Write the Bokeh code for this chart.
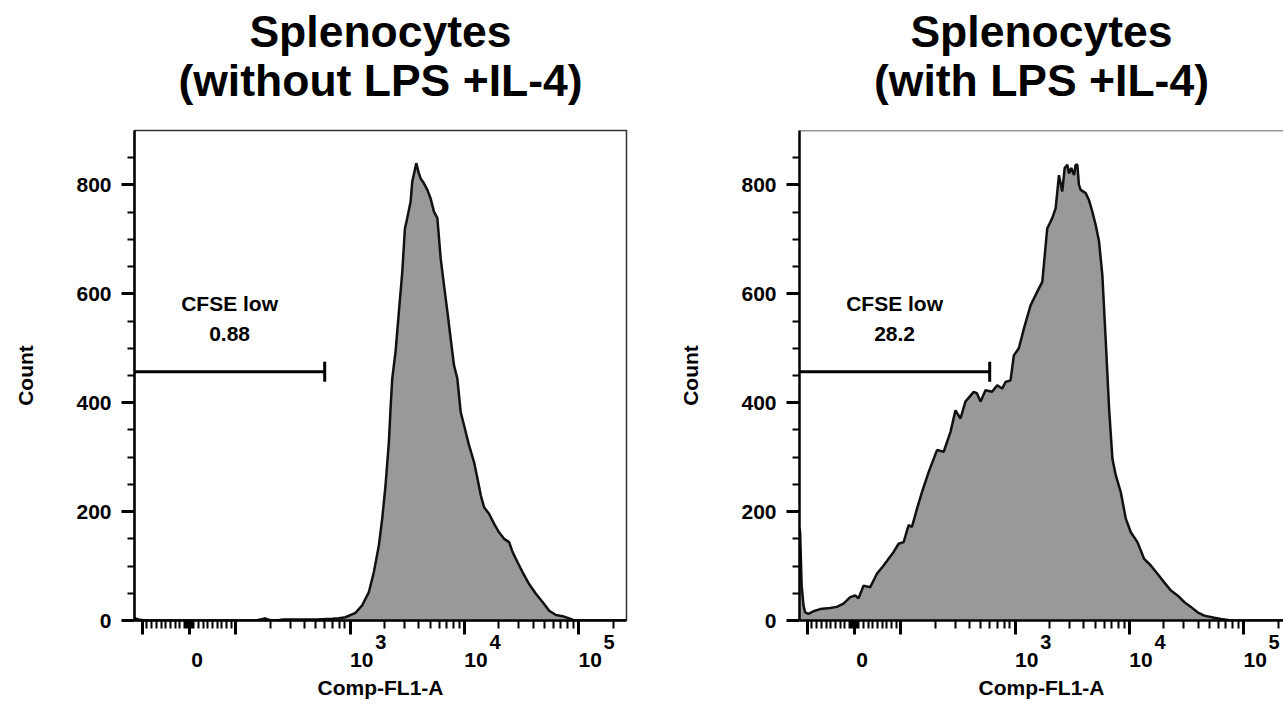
import numpy as np
from bokeh.plotting import figure
from bokeh.models import (Range1d, FixedTicker, Label, Title, Span, LinearAxis,
                          CustomJSTickFormatter)
from bokeh.layouts import row
from bokeh.embed import file_html
from bokeh.resources import INLINE

# ---------------- data ----------------
title_left = ["Splenocytes", "(without LPS +IL-4)"]
title_right = ["Splenocytes", "(with LPS +IL-4)"]
x_axis_label = "Comp-FL1-A"
y_axis_label = "Count"
gate_name = "CFSE low"
gate_pct_left = "0.88"
gate_pct_right = "28.2"
gate_upper = 598          # upper bound of the CFSE-low gate (fluorescence)
gate_level = 457          # height at which the gate is drawn (count)

x_min_val = -117
x_max_val = 262144
y_max_val = 900

y_major = [0, 200, 400, 600, 800]
y_minor = [50, 100, 150, 250, 300, 350, 450, 500, 550, 650, 700, 750, 850]

x_major_vals = [-100, 0, 100, 1000, 10000, 100000]
x_minor_vals = ([-v for v in range(10, 100, 10)] + [-v for v in range(1, 10)] +
                list(range(1, 10)) + list(range(10, 100, 10)) +
                list(range(200, 1000, 100)) + list(range(2000, 10000, 1000)) +
                list(range(20000, 100000, 10000)) + [200000])
x_tick_label_vals = [0, 1000, 10000, 100000]
x_tick_label_base = ["0", "10", "10", "10"]
x_tick_label_exp = ["", "3", "4", "5"]

left_fl = [-117, -108, -95, 60, 150, 172, 180, 190, 205, 240, 260, 500, 700, 794, 908,
           1112, 1274, 1456, 1611, 1782, 1906, 2038, 2181, 2254, 2333, 2495, 2667, 2858,
           3013, 3155, 3378, 3493, 3787, 3945, 4131, 4416, 4732, 5058, 5408, 5794, 6194,
           6622, 7096, 7575, 8096, 8670, 9268, 9908, 10965, 12130, 13000, 13900, 14860,
           16410, 18150, 20090, 22230, 24600, 26360, 29170, 32210, 36810, 42170, 48300,
           55210, 63240, 72280, 82640, 91410, 262144]
left_count = [4, 2, 0, 0, 0, 3, 4, 2, 0, 1, 2, 2, 3, 4, 6,
              14, 28, 52, 89, 138, 187, 248, 328, 389, 444, 494, 567, 641,
              720, 739, 769, 806, 840, 825, 812, 803, 791, 775, 751, 739, 665,
              616, 567, 518, 469, 444, 383, 359, 322, 291, 261, 230, 208,
              196, 178, 162, 150, 144, 126, 107, 89, 67, 49, 34,
              18, 10, 8, 4, 0, 0]

right_fl = [-117, -115.6, -112, -108, -104.5, -97.6, -86.9, -72.6, -51.2, -37, -22.7, -8.3,
            2.3, 9.4, 20.1, 34.3, 48.6, 62.9, 84.3, 95, 105.5, 116.7, 124.8, 138, 152.8,
            175, 206.7, 236.6, 271, 300, 332, 366.6, 433.5, 463.6, 496.6, 549.5, 628, 695,
            769, 822, 910, 973, 1076, 1191, 1364, 1560, 1726, 1782, 1906, 2042, 2109, 2259,
            2415, 2582, 2710, 2858, 2958, 3097, 3273, 3381, 3499, 3614, 3741, 4140, 4426,
            4732, 5070, 5420, 5794, 6208, 6637, 7096, 7586, 8395, 9290, 10280, 11750, 13460,
            15380, 17580, 20140, 23070, 26360, 30130, 34510, 39450, 45190, 55340, 63240,
            77450, 262144]
right_count = [170, 162, 64, 28, 15, 12, 17, 21, 23, 25, 31, 43,
               46, 41, 64, 61, 86, 101, 126, 141, 144, 175, 172, 205, 236,
               273, 313, 310, 346, 386, 371, 402, 420, 417, 402, 423, 420, 432,
               426, 438, 441, 487, 500, 536, 579, 604, 622, 653, 720, 733, 739, 757,
               818, 788, 831, 837, 821, 831, 818, 837, 837, 800, 791, 785, 772,
               751, 726, 696, 634, 512, 389, 297, 267, 236, 187, 162, 144, 113,
               101, 86, 70, 55, 46, 34, 25, 15, 9, 5, 3,
               0, 0]

# ---------------- biexponential-style display transform ----------------
LIN = 0.41   # width (in decades) of the linear zone between 0 and 100


def biex(v):
    v = np.asarray(v, dtype=float)
    a = np.abs(v)
    return np.where(a <= 100, LIN * v / 100.0,
                    np.sign(v) * (LIN + np.log10(np.maximum(a, 1e-9) / 100.0)))


FONT = "Liberation Sans"
SMALL = "21px"
H = 720
TOP = 130
BOTTOM = H - TOP - 490
FRAME_W = 492

u0 = float(biex(x_min_val))
u1_left = float(biex(x_max_val))
px_per_unit = FRAME_W / (u1_left - u0)

LOOKUP = """
let best = 0; let d = Infinity;
for (let i = 0; i < pos.length; i++) {
  const e = Math.abs(pos[i] - tick);
  if (e < d) { d = e; best = i; }
}
return labs[best];
"""


def label_axis(positions, labels, size, standoff):
    ax = LinearAxis(ticker=FixedTicker(ticks=positions, minor_ticks=[]),
                    formatter=CustomJSTickFormatter(args=dict(pos=positions, labs=labels),
                                                    code=LOOKUP))
    ax.axis_line_color = None
    ax.major_tick_line_color = None
    ax.minor_tick_line_color = None
    ax.major_tick_out = 0
    ax.major_tick_in = 0
    ax.minor_tick_out = 0
    ax.minor_tick_in = 0
    ax.major_label_standoff = standoff
    ax.major_label_text_font = FONT
    ax.major_label_text_font_size = size
    ax.major_label_text_font_style = "bold"
    ax.major_label_text_color = "black"
    return ax


def make_panel(fl, cnt, title_lines, pct, width, b_left, b_right, full_frame):
    frame_w = width - b_left - b_right
    u1 = u0 + frame_w / px_per_unit
    p = figure(width=width, height=H, title=None,
               x_range=Range1d(u0, u1), y_range=Range1d(0, y_max_val),
               output_backend="svg", toolbar_location=None,
               min_border_left=b_left, min_border_right=b_right,
               min_border_top=TOP, min_border_bottom=BOTTOM)
    p.background_fill_color = "white"
    p.border_fill_color = "white"
    p.xgrid.visible = False
    p.ygrid.visible = False
    if full_frame:
        p.outline_line_color = "#333333"
        p.outline_line_width = 1.5
    else:
        p.outline_line_color = None
        p.add_layout(Span(location=y_max_val, dimension="width",
                          line_color="#333333", line_width=1.5))

    # titles (second line closest to frame)
    t2 = Title(text=title_lines[1], align="center",
               text_font=FONT, text_font_size="44.5px", text_font_style="bold",
               text_color="black", standoff=51)
    p.add_layout(t2, "above")
    t1 = Title(text=title_lines[0], align="center",
               text_font=FONT, text_font_size="44.5px", text_font_style="bold",
               text_color="black", standoff=-55)
    p.add_layout(t1, "above")

    # y axis
    ya = p.yaxis[0]
    ya.ticker = FixedTicker(ticks=y_major, minor_ticks=y_minor)
    ya.axis_label = y_axis_label
    ya.axis_label_text_font = FONT
    ya.axis_label_text_font_size = SMALL
    ya.axis_label_text_font_style = "bold"
    ya.axis_label_text_color = "black"
    ya.axis_label_standoff = 36
    ya.major_label_text_font = FONT
    ya.major_label_text_font_size = SMALL
    ya.major_label_text_font_style = "bold"
    ya.major_label_text_color = "black"
    ya.major_label_standoff = 10
    ya.axis_line_width = 2.5
    ya.axis_line_color = "black"
    ya.major_tick_out = 13
    ya.major_tick_in = 0
    ya.minor_tick_out = 7
    ya.minor_tick_in = 0
    ya.major_tick_line_width = 3
    ya.minor_tick_line_width = 2

    # x axis: tick marks only
    xa = p.xaxis[0]
    xa.ticker = FixedTicker(ticks=biex(x_major_vals).tolist(),
                            minor_ticks=biex(x_minor_vals).tolist())
    xa.formatter = CustomJSTickFormatter(code="return ''")
    xa.major_label_text_font_size = "0px"
    xa.major_label_standoff = 0
    xa.axis_line_width = 2.5
    xa.axis_line_color = "black"
    xa.major_tick_out = 14
    xa.major_tick_in = 0
    xa.minor_tick_out = 8
    xa.minor_tick_in = 0
    xa.major_tick_line_width = 3
    xa.minor_tick_line_width = 2

    # x tick labels of the biexponential axis: exponents row, then base row
    exp_pos, exp_txt, base_pos, base_txt = [], [], [], []
    for v, base, exp in zip(x_tick_label_vals, x_tick_label_base, x_tick_label_exp):
        xu = float(biex(v))
        if exp == "":
            base_pos.append(xu + 8 / px_per_unit)
        else:
            base_pos.append(xu + 11.5 / px_per_unit)
            exp_pos.append(xu + 30.5 / px_per_unit)
            exp_txt.append(exp)
        base_txt.append(base)
    ax_exp = label_axis(exp_pos, exp_txt, "20px", 0)
    p.add_layout(ax_exp, "below")
    ax_base = label_axis(base_pos, base_txt, SMALL, 1)
    ax_base.axis_label = x_axis_label
    ax_base.axis_label_text_font = FONT
    ax_base.axis_label_text_font_size = SMALL
    ax_base.axis_label_text_font_style = "bold"
    ax_base.axis_label_text_color = "black"
    ax_base.axis_label_standoff = 6
    p.add_layout(ax_base, "below")

    # histogram
    xs = biex(fl)
    p.varea(x=xs, y1=np.zeros(len(cnt)), y2=np.asarray(cnt, dtype=float),
            fill_color="#999999")
    p.line(xs, cnt, line_color="#111111", line_width=2.5)

    # gate
    gx = biex([x_min_val, gate_upper])
    p.line(gx, [gate_level, gate_level], line_color="black", line_width=3)
    p.scatter(x=[gx[1]], y=[gate_level], marker="dash", angle=np.pi / 2, size=20,
              line_color="black", line_width=3)
    mid = float((gx[0] + gx[1]) / 2)
    p.add_layout(Label(x=mid, y=gate_level, y_offset=68, text=gate_name,
                       text_align="center", text_baseline="alphabetic", text_color="black",
                       text_font=FONT, text_font_size=SMALL, text_font_style="bold"))
    p.add_layout(Label(x=mid, y=gate_level, y_offset=38, text=pct,
                       text_align="center", text_baseline="alphabetic", text_color="black",
                       text_font=FONT, text_font_size=SMALL, text_font_style="bold"))
    return p


p1 = make_panel(left_fl, left_count, title_left, gate_pct_left,
                width=666, b_left=134, b_right=40, full_frame=True)
p2 = make_panel(right_fl, right_count, title_right, gate_pct_right,
                width=617, b_left=133, b_right=0, full_frame=False)

layout = row(p1, p2)
open("out.html", "w").write(file_html(layout, INLINE))
